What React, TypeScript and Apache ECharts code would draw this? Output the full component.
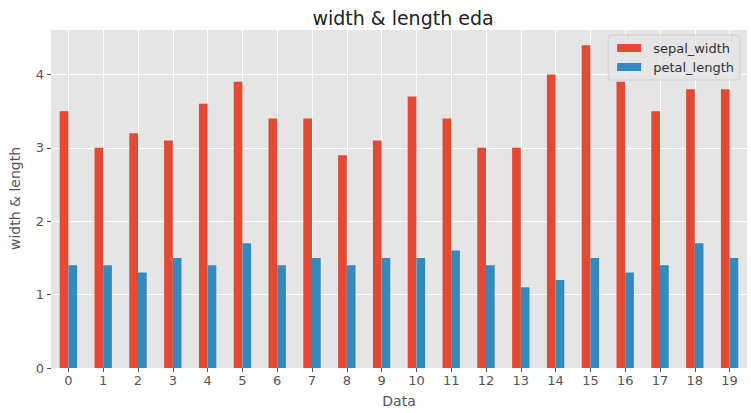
import React, { useEffect, useRef } from "react";
import * as echarts from "echarts";

const categories = ["0","1","2","3","4","5","6","7","8","9","10","11","12","13","14","15","16","17","18","19"];
const sepalWidth = [3.5, 3.0, 3.2, 3.1, 3.6, 3.9, 3.4, 3.4, 2.9, 3.1, 3.7, 3.4, 3.0, 3.0, 4.0, 4.4, 3.9, 3.5, 3.8, 3.8];
const petalLength = [1.4, 1.4, 1.3, 1.5, 1.4, 1.7, 1.4, 1.5, 1.4, 1.5, 1.5, 1.6, 1.4, 1.1, 1.2, 1.5, 1.3, 1.4, 1.7, 1.5];

export default function App() {
  const ref = useRef<HTMLDivElement>(null);
  useEffect(() => {
    const chart = echarts.init(ref.current!, null, { renderer: "svg" });
    const font = "DejaVu Sans";
    chart.setOption({
      animation: false,
      title: {
        text: "width & length eda",
        left: 398,
        textAlign: "center",
        top: 3,
        textStyle: { fontFamily: font, fontSize: 19, fontWeight: "normal", color: "#222" },
      },
      legend: {
        right: 11,
        top: 35,
        orient: "vertical",
        itemWidth: 24,
        itemHeight: 8,
        itemGap: 3,
        padding: [5, 6, 5, 9],
        backgroundColor: "rgba(229,229,229,0.8)",
        borderColor: "rgba(204,204,204,0.8)",
        borderWidth: 1,
        borderRadius: 3,
        icon: "rect",
        textStyle: { fontFamily: font, fontSize: 13, lineHeight: 16, color: "#333", padding: [0, 0, 0, 7] },
        data: ["sepal_width", "petal_length"],
      },
      grid: { left: 49.5, right: 4, top: 29, bottom: 44.5, show: true, backgroundColor: "#E5E5E5", borderWidth: 0 },
      xAxis: {
        type: "category",
        data: categories,
        name: "Data",
        nameLocation: "middle",
        nameGap: 26,
        nameTextStyle: { fontFamily: font, fontSize: 14, color: "#555" },
        axisLine: { show: false },
        axisTick: { show: true, alignWithLabel: true, length: 4, lineStyle: { color: "#555" } },
        axisLabel: { fontFamily: font, fontSize: 13, color: "#555", margin: 6 },
        splitLine: { show: true, alignWithLabel: true, lineStyle: { color: "#fff", width: 1 } },
      },
      yAxis: {
        type: "value",
        min: 0,
        max: 4.62,
        interval: 1,
        name: "width & length",
        nameLocation: "middle",
        nameGap: 29,
        nameTextStyle: { fontFamily: font, fontSize: 14, color: "#555" },
        axisLine: { show: false },
        axisTick: { show: true, length: 4, lineStyle: { color: "#555" } },
        axisLabel: { fontFamily: font, fontSize: 13, color: "#555", margin: 7, showMaxLabel: false },
        splitLine: { show: true, lineStyle: { color: "#fff", width: 1 } },
      },
      series: [
        {
          name: "sepal_width",
          type: "bar",
          data: sepalWidth,
          barWidth: "25%",
          barGap: "0%",
          itemStyle: { color: "#E24A33" },
        },
        {
          name: "petal_length",
          type: "bar",
          data: petalLength,
          barWidth: "25%",
          barGap: "0%",
          itemStyle: { color: "#348ABD" },
        },
      ],
    });
    return () => chart.dispose();
  }, []);
  return <div ref={ref} style={{ width: 751, height: 413, position: "absolute", left: 0, top: 0 }} />;
}
